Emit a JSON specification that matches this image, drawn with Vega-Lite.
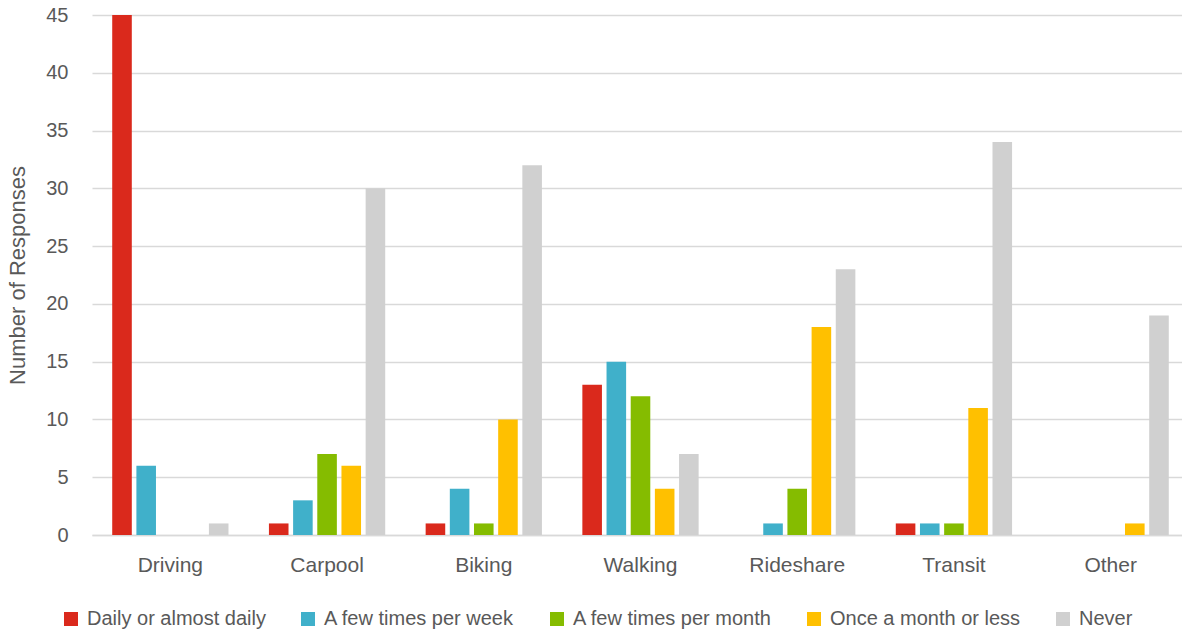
{
  "$schema": "https://vega.github.io/schema/vega-lite/v6.json",
  "width": 1097,
  "height": 520,
  "autosize": {"type": "none"},
  "padding": {"left": 92, "top": 15, "right": 0, "bottom": 97},
  "background": "white",
  "data": {
    "values": [
      {"mode": "Driving", "freq": "Daily or almost daily", "count": 45},
      {"mode": "Driving", "freq": "A few times per week", "count": 6},
      {"mode": "Driving", "freq": "A few times per month", "count": 0},
      {"mode": "Driving", "freq": "Once a month or less", "count": 0},
      {"mode": "Driving", "freq": "Never", "count": 1},
      {"mode": "Carpool", "freq": "Daily or almost daily", "count": 1},
      {"mode": "Carpool", "freq": "A few times per week", "count": 3},
      {"mode": "Carpool", "freq": "A few times per month", "count": 7},
      {"mode": "Carpool", "freq": "Once a month or less", "count": 6},
      {"mode": "Carpool", "freq": "Never", "count": 30},
      {"mode": "Biking", "freq": "Daily or almost daily", "count": 1},
      {"mode": "Biking", "freq": "A few times per week", "count": 4},
      {"mode": "Biking", "freq": "A few times per month", "count": 1},
      {"mode": "Biking", "freq": "Once a month or less", "count": 10},
      {"mode": "Biking", "freq": "Never", "count": 32},
      {"mode": "Walking", "freq": "Daily or almost daily", "count": 13},
      {"mode": "Walking", "freq": "A few times per week", "count": 15},
      {"mode": "Walking", "freq": "A few times per month", "count": 12},
      {"mode": "Walking", "freq": "Once a month or less", "count": 4},
      {"mode": "Walking", "freq": "Never", "count": 7},
      {"mode": "Rideshare", "freq": "Daily or almost daily", "count": 0},
      {"mode": "Rideshare", "freq": "A few times per week", "count": 1},
      {"mode": "Rideshare", "freq": "A few times per month", "count": 4},
      {"mode": "Rideshare", "freq": "Once a month or less", "count": 18},
      {"mode": "Rideshare", "freq": "Never", "count": 23},
      {"mode": "Transit", "freq": "Daily or almost daily", "count": 1},
      {"mode": "Transit", "freq": "A few times per week", "count": 1},
      {"mode": "Transit", "freq": "A few times per month", "count": 1},
      {"mode": "Transit", "freq": "Once a month or less", "count": 11},
      {"mode": "Transit", "freq": "Never", "count": 34},
      {"mode": "Other", "freq": "Daily or almost daily", "count": 0},
      {"mode": "Other", "freq": "A few times per week", "count": 0},
      {"mode": "Other", "freq": "A few times per month", "count": 0},
      {"mode": "Other", "freq": "Once a month or less", "count": 1},
      {"mode": "Other", "freq": "Never", "count": 19}
    ]
  },
  "mark": {"type": "bar"},
  "encoding": {
    "x": {
      "field": "mode",
      "type": "nominal",
      "sort": null,
      "title": null,
      "scale": {"paddingInner": 0.258, "paddingOuter": 0.129},
      "axis": {
        "labelAngle": 0,
        "labelFont": "Liberation Sans",
        "labelFontSize": 21,
        "labelColor": "#595959",
        "labelPadding": 19,
        "ticks": false,
        "domainColor": "#d9d9d9",
        "domainWidth": 1.5
      }
    },
    "xOffset": {
      "field": "freq",
      "type": "nominal",
      "sort": ["Daily or almost daily", "A few times per week", "A few times per month", "Once a month or less", "Never"],
      "scale": {"paddingInner": 0.19, "paddingOuter": 0}
    },
    "y": {
      "field": "count",
      "type": "quantitative",
      "title": "Number of Responses",
      "scale": {"domain": [0, 45], "nice": false},
      "axis": {
        "values": [0, 5, 10, 15, 20, 25, 30, 35, 40, 45],
        "domain": false,
        "ticks": false,
        "labelFont": "Liberation Sans",
        "labelFontSize": 20,
        "labelColor": "#595959",
        "labelPadding": 24,
        "gridColor": "#d9d9d9",
        "gridWidth": 1.5,
        "titleFont": "Liberation Sans",
        "titleFontSize": 22,
        "titleFontWeight": "normal",
        "titleColor": "#595959",
        "titlePadding": 16
      }
    },
    "color": {
      "field": "freq",
      "type": "nominal",
      "title": null,
      "sort": ["Daily or almost daily", "A few times per week", "A few times per month", "Once a month or less", "Never"],
      "scale": {
        "domain": ["Daily or almost daily", "A few times per week", "A few times per month", "Once a month or less", "Never"],
        "range": ["#da291c", "#40b0ca", "#85bc00", "#ffc000", "#d0d0d0"]
      },
      "legend": {
        "orient": "none",
        "legendX": -31,
        "legendY": 594,
        "direction": "horizontal",
        "symbolType": "square",
        "symbolSize": 196,
        "symbolStrokeWidth": 0,
        "labelFont": "Liberation Sans",
        "labelFontSize": 20,
        "labelLimit": 0,
        "labelColor": "#595959",
        "labelOffset": 6,
        "columnPadding": 32
      }
    }
  },
  "config": {
    "view": {"stroke": null}
  }
}
